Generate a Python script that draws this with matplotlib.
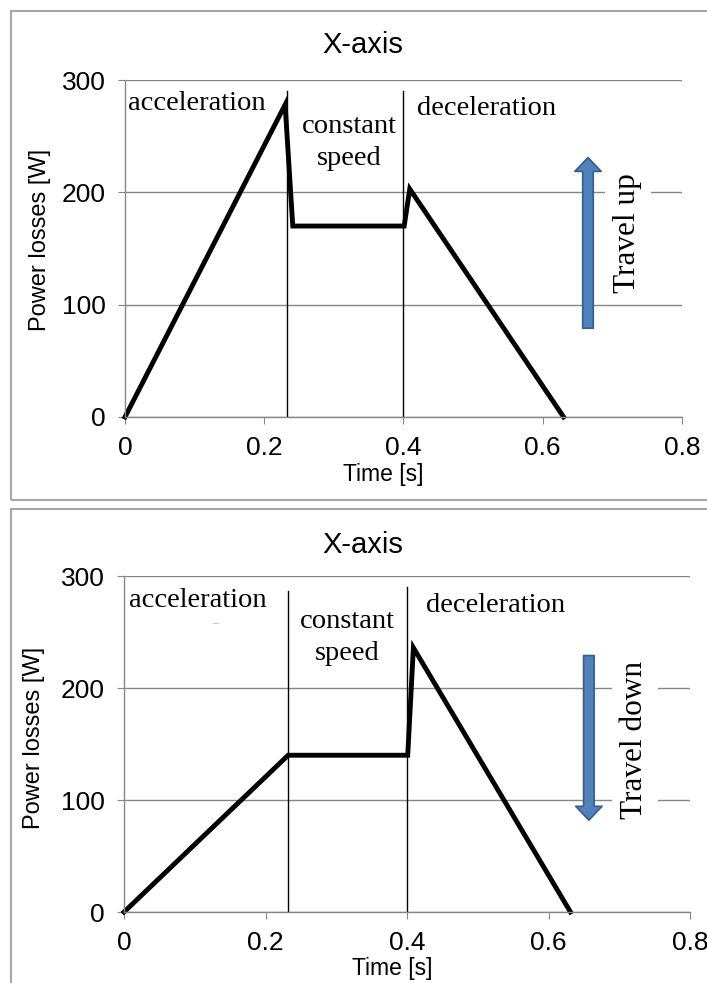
import matplotlib.pyplot as plt
from matplotlib.patches import Rectangle, FancyArrowPatch

# datos
t_up = [0, 0.23, 0.241, 0.401, 0.409, 0.630]
p_up = [0, 278, 170, 170, 203, 0]
t_down = [0, 0.232, 0.401, 0.409, 0.631]
p_down = [0, 140, 140, 236, 0]

sep_up = [0.233, 0.400]
sep_up_top = [290, 290]
sep_down = [0.232, 0.400]
sep_down_top = [287, 290]

xticks = [0, 0.2, 0.4, 0.6, 0.8]
xticklabels = ['0', '0.2', '0.4', '0.6', '0.8']
yticks = [0, 100, 200, 300]

SANS = 'Liberation Sans'
SERIF = 'Liberation Serif'
GRID = '#868686'

fig = plt.figure(figsize=(7.07, 9.83), dpi=100)

# marcos de cada grafico
fig.patches.append(Rectangle((0.0156, 0.4914), 1.0, 0.4974, transform=fig.transFigure,
                             fill=False, edgecolor='#A6A6A6', linewidth=1.5))
fig.patches.append(Rectangle((0.0156, -0.05), 1.0, 0.5322, transform=fig.transFigure,
                             fill=False, edgecolor='#A6A6A6', linewidth=1.5))


def panel(rect, t, p, seps, sep_tops, labels_pos, arrow, travel, title_xy, xlabel_xy, ylabel_xy):
    ax = fig.add_axes(rect)
    ax.set_xlim(0, 0.8)
    ax.set_ylim(0, 300)
    ax.set_xticks(xticks)
    ax.set_xticklabels(xticklabels)
    ax.set_yticks(yticks)
    for s in ['top', 'right']:
        ax.spines[s].set_visible(False)
    for s in ['left', 'bottom']:
        ax.spines[s].set_color(GRID)
        ax.spines[s].set_linewidth(1)
    ax.tick_params(direction='out', length=5, color=GRID, labelsize=19, pad=9)
    for lab in ax.get_xticklabels() + ax.get_yticklabels():
        lab.set_family(SANS)
    ax.grid(axis='y', color=GRID, linewidth=1)
    ax.set_axisbelow(True)

    for x, top in zip(seps, sep_tops):
        ax.plot([x, x], [0, top], color='black', linewidth=1)

    ax.plot(t, p, color='black', linewidth=3.5, solid_joinstyle='miter', clip_on=False)

    (ax_, ay_), (cx, cy1, cy2), (dx, dy) = labels_pos
    ax.text(ax_, ay_, 'acceleration', family=SERIF, fontsize=20.5, va='center', ha='left')
    ax.text(cx, cy1, 'constant', family=SERIF, fontsize=20.5, va='center', ha='center')
    ax.text(cx, cy2, 'speed', family=SERIF, fontsize=20.5, va='center', ha='center')
    ax.text(dx, dy, 'deceleration', family=SERIF, fontsize=20.5, va='center', ha='left')

    x_arr, y_from, y_to = arrow
    ax.add_patch(FancyArrowPatch((x_arr, y_from), (x_arr, y_to), mutation_scale=20,
                                 arrowstyle='simple,head_length=0.5,head_width=0.95,tail_width=0.38',
                                 fc='#4F81BD', ec='#385D8A', linewidth=1.2, shrinkA=0, shrinkB=0))
    txt, tx, ty = travel
    ax.text(tx, ty, txt, family=SERIF, fontsize=22.5, rotation=90, ha='center', va='center',
            bbox=dict(facecolor='white', edgecolor='none', pad=6))

    fig.text(title_xy[0], title_xy[1], 'X-axis', family=SANS, fontsize=21, ha='center', va='center')
    fig.text(xlabel_xy[0], xlabel_xy[1], 'Time [s]', family=SANS, fontsize=16.5, ha='center', va='center')
    fig.text(ylabel_xy[0], ylabel_xy[1], 'Power losses [W]', family=SANS, fontsize=17,
             ha='center', va='center', rotation=90)
    return ax


panel([0.1768, 0.5758, 0.7878, 0.3428], t_up, p_up, sep_up, sep_up_top,
      ((0.004, 279), (0.322, 259, 230), (0.419, 275)),
      (0.665, 79, 231), ('Travel up', 0.722, 164),
      (363 / 707, 1 - 45 / 983), (383 / 707, 1 - 474 / 983), (40 / 707, 1 - 240 / 983))

ax2 = panel([0.1754, 0.0722, 0.8006, 0.3418], t_down, p_down, sep_down, sep_down_top,
            ((0.007, 278), (0.315, 259, 231), (0.427, 274)),
            (0.657, 229, 82), ('Travel down', 0.722, 154),
            (363 / 707, 1 - 545 / 983), (392 / 707, 1 - 969 / 983), (34 / 707, 1 - 738 / 983))
ax2.text(0.13, 258, '\u2013', family=SANS, fontsize=8, color='#BBBBBB', ha='center', va='center')

fig.savefig('out.png', dpi=100)
